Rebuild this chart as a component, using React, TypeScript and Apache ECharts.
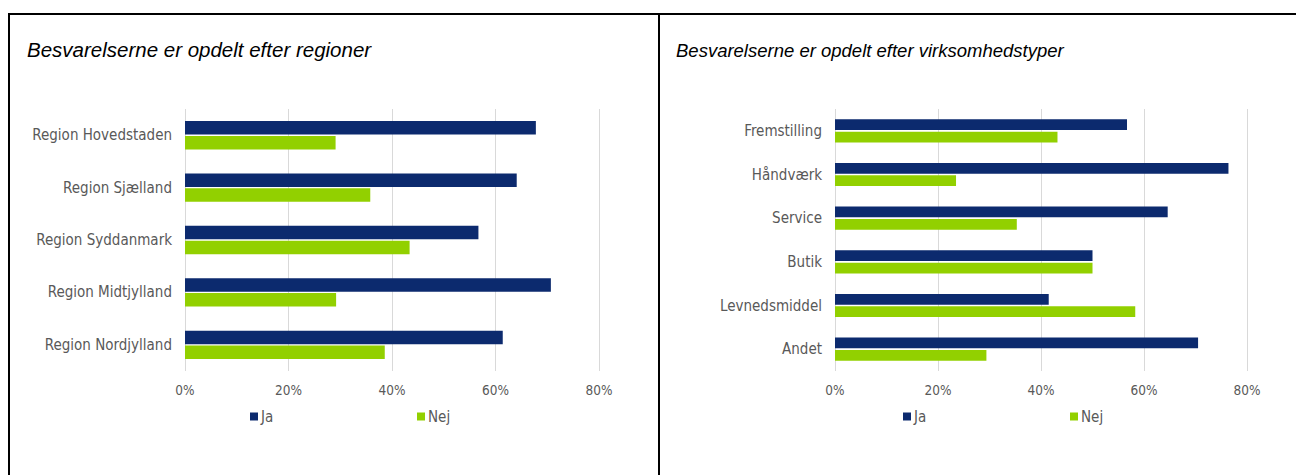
import React, { useEffect, useRef } from "react";
import * as echarts from "echarts";

const regionCategories = [
  "Region Hovedstaden",
  "Region Sjælland",
  "Region Syddanmark",
  "Region Midtjylland",
  "Region Nordjylland",
];
const regionJa = [67.8, 64.1, 56.7, 70.7, 61.4];
const regionNej = [29.1, 35.8, 43.4, 29.2, 38.6];

const typeCategories = [
  "Fremstilling",
  "Håndværk",
  "Service",
  "Butik",
  "Levnedsmiddel",
  "Andet",
];
const typeJa = [56.7, 76.4, 64.6, 50.0, 41.5, 70.5];
const typeNej = [43.2, 23.5, 35.3, 50.0, 58.3, 29.4];

const leftSubtitle = "Besvarelserne er opdelt efter regioner";
const rightSubtitle = "Besvarelserne er opdelt efter virksomhedstyper";

const JA_COLOR = "#0C2A6E";
const NEJ_COLOR = "#92D000";
const LABEL_COLOR = "#595959";
const LABEL_FONT = "'DejaVu Sans Condensed', 'DejaVu Sans', sans-serif";

export default function App() {
  const ref = useRef<HTMLDivElement>(null);

  useEffect(() => {
    if (!ref.current) return;
    const chart = echarts.init(ref.current, null, { renderer: "svg" });

    const xAxisBase = (gridIndex: number) => ({
      type: "value" as const,
      gridIndex,
      min: 0,
      max: 80,
      interval: 20,
      axisLine: { show: false },
      axisTick: { show: false },
      splitLine: { show: true, lineStyle: { color: "#D9D9D9", width: 1 } },
      axisLabel: {
        formatter: "{value}%",
        color: LABEL_COLOR,
        fontFamily: LABEL_FONT,
        fontSize: 13.5,
        margin: 12,
      },
    });

    const yAxisBase = (gridIndex: number, data: string[]) => ({
      type: "category" as const,
      gridIndex,
      data,
      inverse: true,
      axisLine: { show: false },
      axisTick: { show: false },
      splitLine: { show: false },
      axisLabel: {
        color: LABEL_COLOR,
        fontFamily: LABEL_FONT,
        fontSize: 15,
        margin: 13,
      },
    });

    const legendItem = (name: string, left: number) => ({
      data: [name],
      left,
      top: 409,
      icon: "rect",
      itemWidth: 8,
      itemHeight: 8,
      itemGap: 4,
      padding: 0,
      selectedMode: false,
      textStyle: {
        color: LABEL_COLOR,
        fontFamily: LABEL_FONT,
        fontSize: 15,
        padding: [0, 0, 0, -2],
      },
    });

    chart.setOption({
      animation: false,
      backgroundColor: "#ffffff",
      grid: [
        { left: 185, width: 414, top: 109, height: 262, containLabel: false },
        { left: 835, width: 412, top: 109, height: 262, containLabel: false },
      ],
      xAxis: [xAxisBase(0), xAxisBase(1)],
      yAxis: [yAxisBase(0, regionCategories), yAxisBase(1, typeCategories)],
      legend: [
        legendItem("Ja", 250),
        legendItem("Nej", 417),
        legendItem("Ja", 903),
        legendItem("Nej", 1070),
      ],
      series: [
        {
          name: "Ja",
          type: "bar",
          xAxisIndex: 0,
          yAxisIndex: 0,
          data: regionJa,
          barWidth: 13.5,
          barGap: "10%",
          itemStyle: { color: JA_COLOR },
        },
        {
          name: "Nej",
          type: "bar",
          xAxisIndex: 0,
          yAxisIndex: 0,
          data: regionNej,
          barWidth: 13.5,
          barGap: "10%",
          itemStyle: { color: NEJ_COLOR },
        },
        {
          name: "Ja",
          type: "bar",
          xAxisIndex: 1,
          yAxisIndex: 1,
          data: typeJa,
          barWidth: 10.7,
          barGap: "16%",
          itemStyle: { color: JA_COLOR },
        },
        {
          name: "Nej",
          type: "bar",
          xAxisIndex: 1,
          yAxisIndex: 1,
          data: typeNej,
          barWidth: 10.7,
          barGap: "16%",
          itemStyle: { color: NEJ_COLOR },
        },
      ],
      graphic: [
        {
          type: "line",
          shape: { x1: 8, y1: 14, x2: 1296, y2: 14 },
          style: { stroke: "#000", lineWidth: 2 },
        },
        {
          type: "line",
          shape: { x1: 9, y1: 13, x2: 9, y2: 475 },
          style: { stroke: "#000", lineWidth: 2 },
        },
        {
          type: "line",
          shape: { x1: 659, y1: 13, x2: 659, y2: 475 },
          style: { stroke: "#000", lineWidth: 2 },
        },
        {
          type: "text",
          left: 27,
          top: 39,
          style: {
            text: leftSubtitle,
            fill: "#000",
            font: "italic 20.5px 'Liberation Sans', Arial, sans-serif",
          },
        },
        {
          type: "text",
          left: 676,
          top: 41,
          style: {
            text: rightSubtitle,
            fill: "#000",
            font: "italic 18.5px 'Liberation Sans', Arial, sans-serif",
          },
        },
      ],
    });

    return () => chart.dispose();
  }, []);

  return (
    <div
      ref={ref}
      style={{ position: "fixed", left: 0, top: 0, width: 1296, height: 475, background: "#fff" }}
    />
  );
}
